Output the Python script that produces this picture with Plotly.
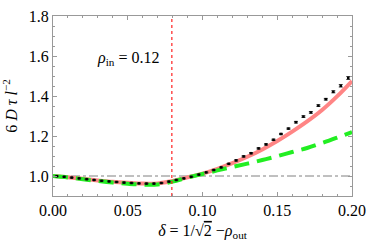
import plotly.graph_objects as go

# data points (simulation) with error bars
pts_x = [0.0025 + 0.005 * k for k in range(40)]
pts_y = [0.999, 0.996, 0.992, 0.988, 0.984, 0.980, 0.976, 0.973, 0.970, 0.967,
         0.965, 0.963, 0.962, 0.962, 0.965, 0.972, 0.980, 0.988, 0.996, 1.007,
         1.018, 1.030, 1.043, 1.061, 1.078, 1.098, 1.114, 1.138, 1.158, 1.181,
         1.210, 1.237, 1.269, 1.297, 1.318, 1.352, 1.384, 1.421, 1.451, 1.490]
pts_err = [0.002] * 24 + [0.003] * 8 + [0.004] * 5 + [0.005, 0.006, 0.007]

# theory curves
curve_x = [0.00, 0.01, 0.02, 0.03, 0.04, 0.05, 0.06, 0.07, 0.08, 0.09, 0.10,
           0.11, 0.12, 0.13, 0.14, 0.15, 0.16, 0.17, 0.18, 0.19, 0.20]
pink_y = [1.000, 0.994, 0.986, 0.978, 0.971, 0.966, 0.962, 0.963, 0.975, 0.993, 1.012,
          1.036, 1.064, 1.096, 1.133, 1.175, 1.222, 1.273, 1.330, 1.398, 1.475]
green_y = [1.000, 0.993, 0.984, 0.975, 0.967, 0.961, 0.957, 0.958, 0.972, 0.992, 1.010,
           1.028, 1.045, 1.062, 1.080, 1.099, 1.120, 1.140, 1.165, 1.192, 1.220]

x_line = 0.0795
x_ticks = [0.00, 0.05, 0.10, 0.15, 0.20]
y_ticks = [1.0, 1.2, 1.4, 1.6, 1.8]

FONT = "Liberation Serif, Times New Roman, DejaVu Serif, serif"

fig = go.Figure()
fig.add_trace(go.Scatter(x=[0, 0.2], y=[1.0, 1.0], mode="lines",
                         line=dict(color="#808080", width=1, dash="dashdot"),
                         showlegend=False, hoverinfo="skip"))
fig.add_trace(go.Scatter(x=curve_x, y=pink_y, mode="lines", line_shape="spline",
                         line=dict(color="#FF8585", width=4), showlegend=False))
fig.add_trace(go.Scatter(x=curve_x, y=green_y, mode="lines", line_shape="spline",
                         line=dict(color="#22EE22", width=4, dash="15px,8px"),
                         showlegend=False))
fig.add_trace(go.Scatter(x=pts_x, y=pts_y, mode="markers",
                         marker=dict(color="black", size=2.5, symbol="square"),
                         error_y=dict(type="data", array=pts_err, color="#333333",
                                      thickness=1, width=2),
                         showlegend=False))
fig.add_trace(go.Scatter(x=[x_line, x_line], y=[0.9, 1.8], mode="lines",
                         line=dict(color="#FF2020", width=1.2, dash="dot"),
                         showlegend=False))

fig.add_annotation(x=0.05, y=1.59, text="<i>ρ</i><sub>in</sub> = 0.12",
                   showarrow=False, font=dict(family=FONT, size=16, color="black"))

axis_common = dict(showgrid=False, zeroline=False, showline=True, linecolor="#999999",
                   linewidth=1, mirror="allticks", ticks="inside", ticklen=4,
                   tickcolor="#999999", tickfont=dict(family=FONT, size=16, color="black"))

fig.update_xaxes(range=[0, 0.2], tickvals=x_ticks, ticktext=[f"{v:.2f}" for v in x_ticks],
                 minor=dict(dtick=0.01, ticklen=2, ticks="inside", tickcolor="#999999"),
                 title=dict(text="<i>δ</i> = 1/√<span style='text-decoration:overline'>2</span> −<i>ρ</i><sub>out</sub>",
                            font=dict(family=FONT, size=16, color="black"), standoff=6),
                 **axis_common)
fig.update_yaxes(range=[0.9, 1.8], tickvals=y_ticks, ticktext=[f"{v:.1f}" for v in y_ticks],
                 minor=dict(dtick=0.05, tick0=0.9, ticklen=2, ticks="inside", tickcolor="#999999"),
                 title=dict(text="6 <i>D</i> <i>τ</i> <i>l</i><sup>−2</sup>",
                            font=dict(family=FONT, size=16, color="black"), standoff=8),
                 **axis_common)

fig.update_layout(width=374, height=250, margin=dict(l=53, r=16, t=8, b=54),
                  plot_bgcolor="white", paper_bgcolor="white")

fig.write_html("out.html", config={"displayModeBar": False},
               post_script="document.body.style.margin='0px';")
